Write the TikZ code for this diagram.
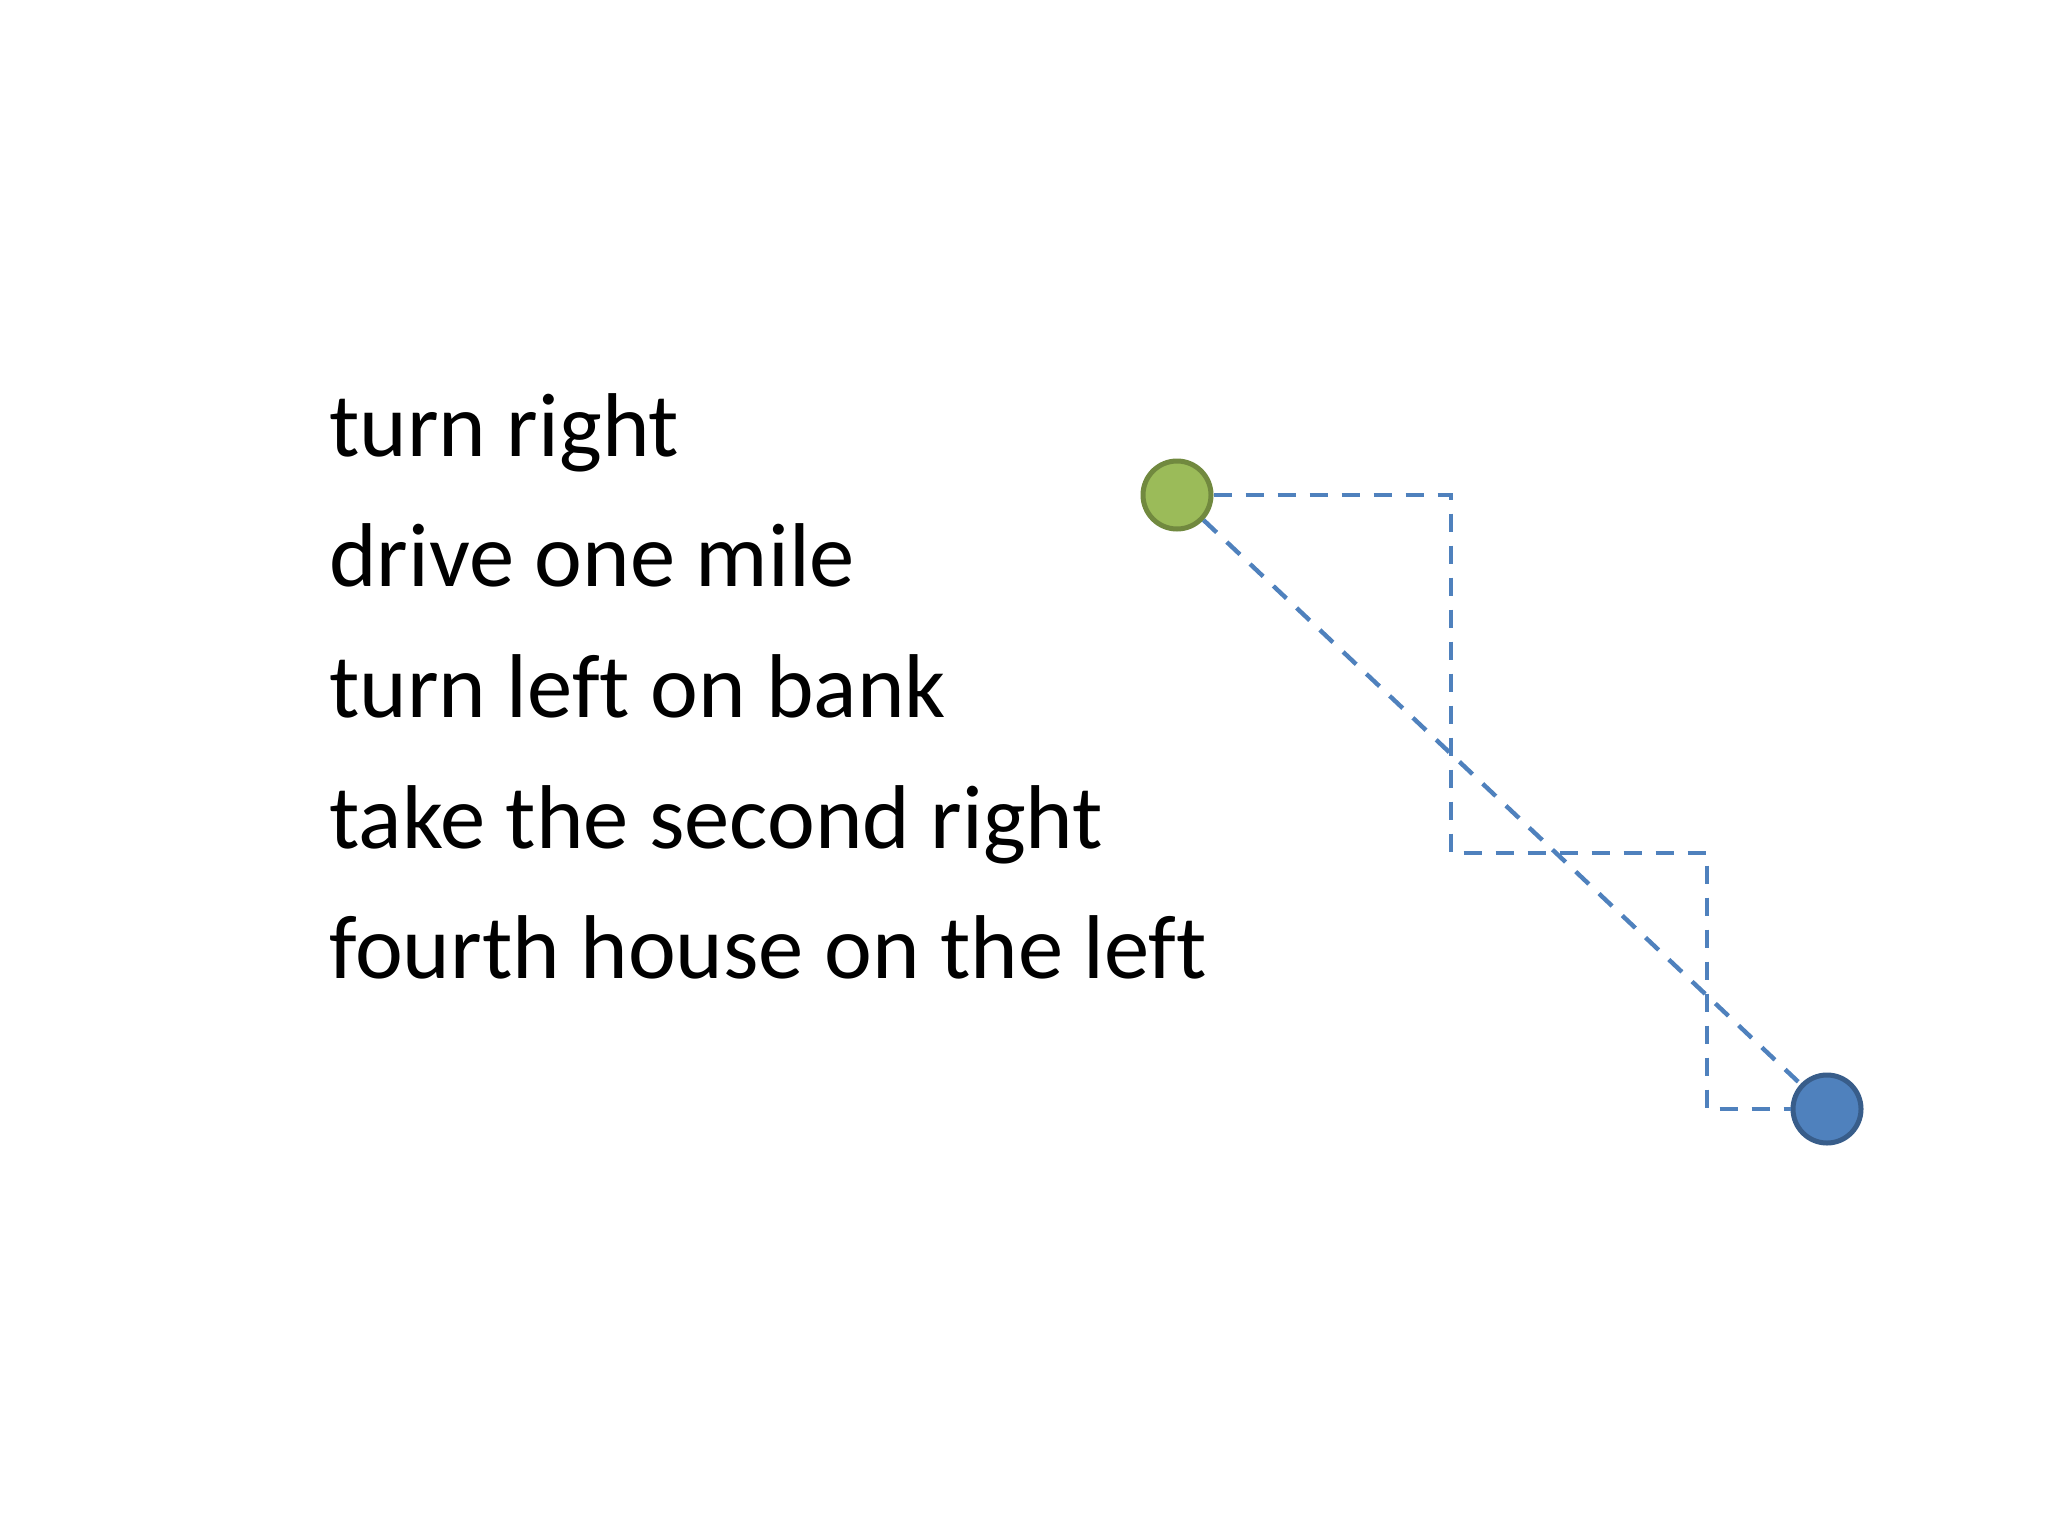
\documentclass[tikz,border=0pt]{standalone}
\usepackage{fontspec}
\setmainfont{Carlito}[RawFeature={-liga;-clig;-dlig}]
\definecolor{ogreen}{HTML}{9BBB59}
\definecolor{ogreenD}{HTML}{71893F}
\definecolor{oblue}{HTML}{4F81BD}
\definecolor{oblueD}{HTML}{385D8A}
\begin{document}
\begin{tikzpicture}[x=0.5pt,y=-0.5pt,
  stepline/.style={font=\fontsize{45.3}{54}\selectfont, anchor=base west, inner sep=0pt},
  dot/.style={circle, minimum size=34pt, inner sep=0pt, line width=2.5pt},
  route/.style={draw=oblue, line width=2.2pt, dash pattern=on 9pt off 7pt}]
\path[use as bounding box, fill=white] (0,0) rectangle (2048,1536);
\node[stepline] (t1) at (329,456) {turn right};
\node[stepline] (t2) at (329,586) {drive one mile};
\node[stepline] (t3) at (329,717) {turn lef\kern0pt t on bank};
\node[stepline] (t4) at (329,848) {take the second right};
\node[stepline] (t5) at (329,978) {fourth house on the lef\kern0pt t};
\coordinate (c1) at (1451,495);
\coordinate (c2) at (1451,853);
\coordinate (c3) at (1707,853);
\coordinate (c4) at (1707,1109);
\node[dot, fill=ogreen, draw=ogreenD] (g) at (1177,495) {};
\node[dot, fill=oblue, draw=oblueD] (b) at (1827,1109) {};
\draw[route] (g) -- (c1) -- (c2) -- (c3) -- (c4) -- (b);
\draw[route] (g) -- (b);
\end{tikzpicture}
\end{document}
